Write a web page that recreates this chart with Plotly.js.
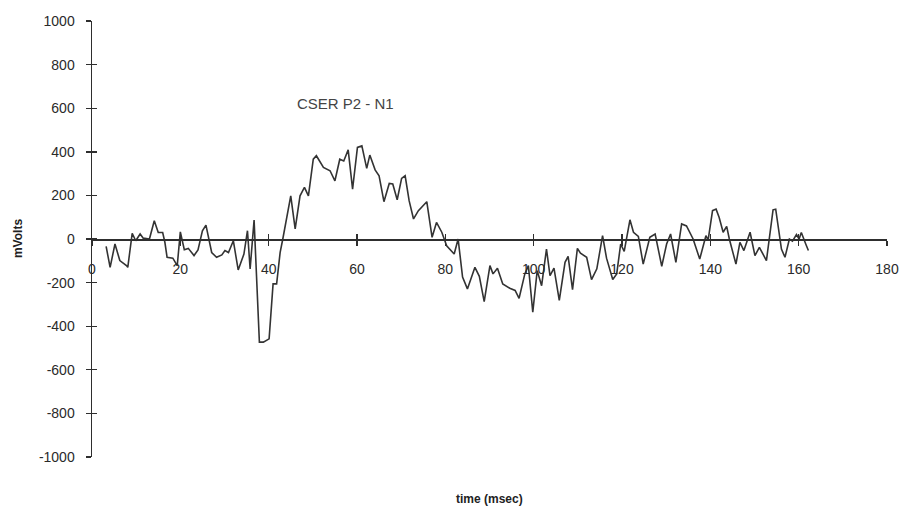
<!DOCTYPE html>
<html>
<head>
<meta charset="utf-8">
<script src="https://cdn.plot.ly/plotly-3.0.1.min.js"></script>
<style>html,body{margin:0;padding:0;background:#fff;}#chart{width:913px;height:510px;}</style>
</head>
<body>
<div id="chart"></div>
<script>
// time (msec)
const timeMs = [
  3.2,4.1,5.2,6.3,7.8,8.1,9.1,9.9,10.9,11.6,
  13.0,14.1,15.0,16.0,16.5,17.0,18.3,19.3,20.0,20.9,
  21.8,23.1,24.0,25.0,25.8,26.3,27.1,28.2,29.4,30.1,
  30.9,32.0,33.1,34.4,35.2,35.8,36.7,37.9,38.8,40.1,
  41.0,41.8,42.6,43.2,45.0,46.0,47.1,48.1,49.0,50.1,
  50.8,52.4,53.9,55.0,56.1,57.0,58.0,59.0,60.1,61.1,
  62.2,62.9,64.1,65.0,66.1,67.3,68.1,69.1,70.1,70.9,
  71.8,72.8,73.9,75.8,77.0,78.0,79.2,80.3,82.0,82.9,
  83.9,85.0,86.7,87.7,88.8,90.1,90.8,91.8,93.0,94.6,
  95.8,96.7,98.0,98.8,99.8,100.8,101.8,102.9,103.7,104.6,
  105.8,107.1,107.8,108.8,109.9,110.6,111.6,112.0,113.1,114.3,
  115.6,116.5,117.9,118.8,119.7,120.5,121.8,122.6,123.7,124.8,
  126.3,127.5,129.0,130.1,131.0,132.2,133.5,134.6,136.1,137.6,
  139.0,139.5,140.5,141.3,142.0,142.9,143.7,144.3,145.8,146.7,
  147.6,149.0,150.1,151.1,152.7,153.6,154.2,154.8,156.1,156.9,
  157.9,158.6,159.5,160.1,160.6,161.6,162.2
];
// mVolts
const cserP2N1 = [
  -34,-130,-23,-99,-122,-130,26,-8,23,4,
  0,84,30,30,-15,-84,-88,-122,33,-49,
  -43,-76,-50,38,64,20,-62,-84,-73,-53,
  -62,-8,-142,-69,38,-137,87,-473,-473,-458,
  -206,-206,-61,0,198,46,198,237,198,366,
  382,328,313,267,366,358,409,229,420,427,
  324,385,317,290,171,255,252,180,278,290,
  176,92,130,171,8,76,31,-31,-69,0,
  -175,-229,-130,-171,-287,-122,-160,-134,-206,-226,
  -236,-272,-160,-122,-336,-145,-214,-46,-168,-134,
  -282,-107,-80,-232,-43,-65,-77,-84,-186,-137,
  15,-88,-186,-160,-23,-57,88,31,12,-115,
  8,23,-125,-23,23,-107,69,60,0,-92,
  15,-5,130,137,99,31,58,0,-115,-15,
  -53,31,-76,-38,-99,46,134,137,-46,-84,
  0,-10,20,0,30,-23,-53
];
const xTicks = [0,20,40,60,80,100,120,140,160,180];
const yTicks = [-1000,-800,-600,-400,-200,0,200,400,600,800,1000];
const seriesLabel = "CSER P2 - N1";
const xLabel = "time (msec)";
const yLabel = "mVolts";

const ink = '#2e2e2e';
const tickFont = {family: 'Arial, Liberation Sans, sans-serif', size: 14, color: '#2a2a2a'};

const traces = [
  {x: timeMs, y: cserP2N1, type: 'scatter', mode: 'lines',
   line: {color: '#333', width: 1.6}, hoverinfo: 'skip', showlegend: false},
  {x: [], y: [], xaxis: 'x2', yaxis: 'y2', type: 'scatter', mode: 'lines', showlegend: false}
];

const layout = {
  width: 913, height: 510,
  margin: {l: 92, r: 26, t: 21, b: 53, pad: 0},
  paper_bgcolor: '#fff', plot_bgcolor: '#fff',
  showlegend: false,
  xaxis: {
    range: [0, 180], tickvals: xTicks, ticktext: xTicks.map(String),
    anchor: 'free', position: 0.5,
    showline: true, linecolor: ink, linewidth: 1.5,
    ticks: 'outside', ticklen: 5, tickwidth: 1.4, tickcolor: ink,
    tickfont: tickFont, ticklabelstandoff: 12,
    showgrid: false, zeroline: false, fixedrange: true
  },
  yaxis: {
    range: [-1000, 1000], tickvals: yTicks, ticktext: yTicks.map(String),
    showline: true, linecolor: ink, linewidth: 1.5,
    ticks: 'outside', ticklen: 5, tickwidth: 1.4, tickcolor: ink,
    tickfont: tickFont, ticklabelstandoff: 8,
    showgrid: false, zeroline: false, fixedrange: true
  },
  xaxis2: {
    overlaying: 'x', anchor: 'free', position: 0.5,
    range: [0, 180], tickvals: xTicks, showticklabels: false,
    ticks: 'inside', ticklen: 5, tickwidth: 1.4, tickcolor: ink,
    showline: false, showgrid: false, zeroline: false, fixedrange: true
  },
  yaxis2: {
    overlaying: 'y', anchor: 'x',
    range: [-1000, 1000], tickvals: yTicks, showticklabels: false,
    ticks: 'inside', ticklen: 5, tickwidth: 1.4, tickcolor: ink,
    showline: false, showgrid: false, zeroline: false, fixedrange: true
  },
  annotations: [
    {text: seriesLabel, xref: 'x', yref: 'y', x: 57.3, y: 623,
     showarrow: false, xanchor: 'center', yanchor: 'middle',
     font: {family: 'Arial, Liberation Sans, sans-serif', size: 15, color: '#444'}},
    {text: '<b>' + yLabel + '</b>', xref: 'paper', yref: 'paper', x: -0.093, y: 0.5,
     textangle: -90, showarrow: false, xanchor: 'center', yanchor: 'middle',
     font: {family: 'Arial, Liberation Sans, sans-serif', size: 12, color: '#222'}},
    {text: '<b>' + xLabel + '</b>', xref: 'paper', yref: 'paper', x: 0.5006, y: -0.096,
     showarrow: false, xanchor: 'center', yanchor: 'middle',
     font: {family: 'Arial, Liberation Sans, sans-serif', size: 12, color: '#222'}}
  ]
};

Plotly.newPlot('chart', traces, layout, {staticPlot: true, displayModeBar: false});
</script>
</body>
</html>
